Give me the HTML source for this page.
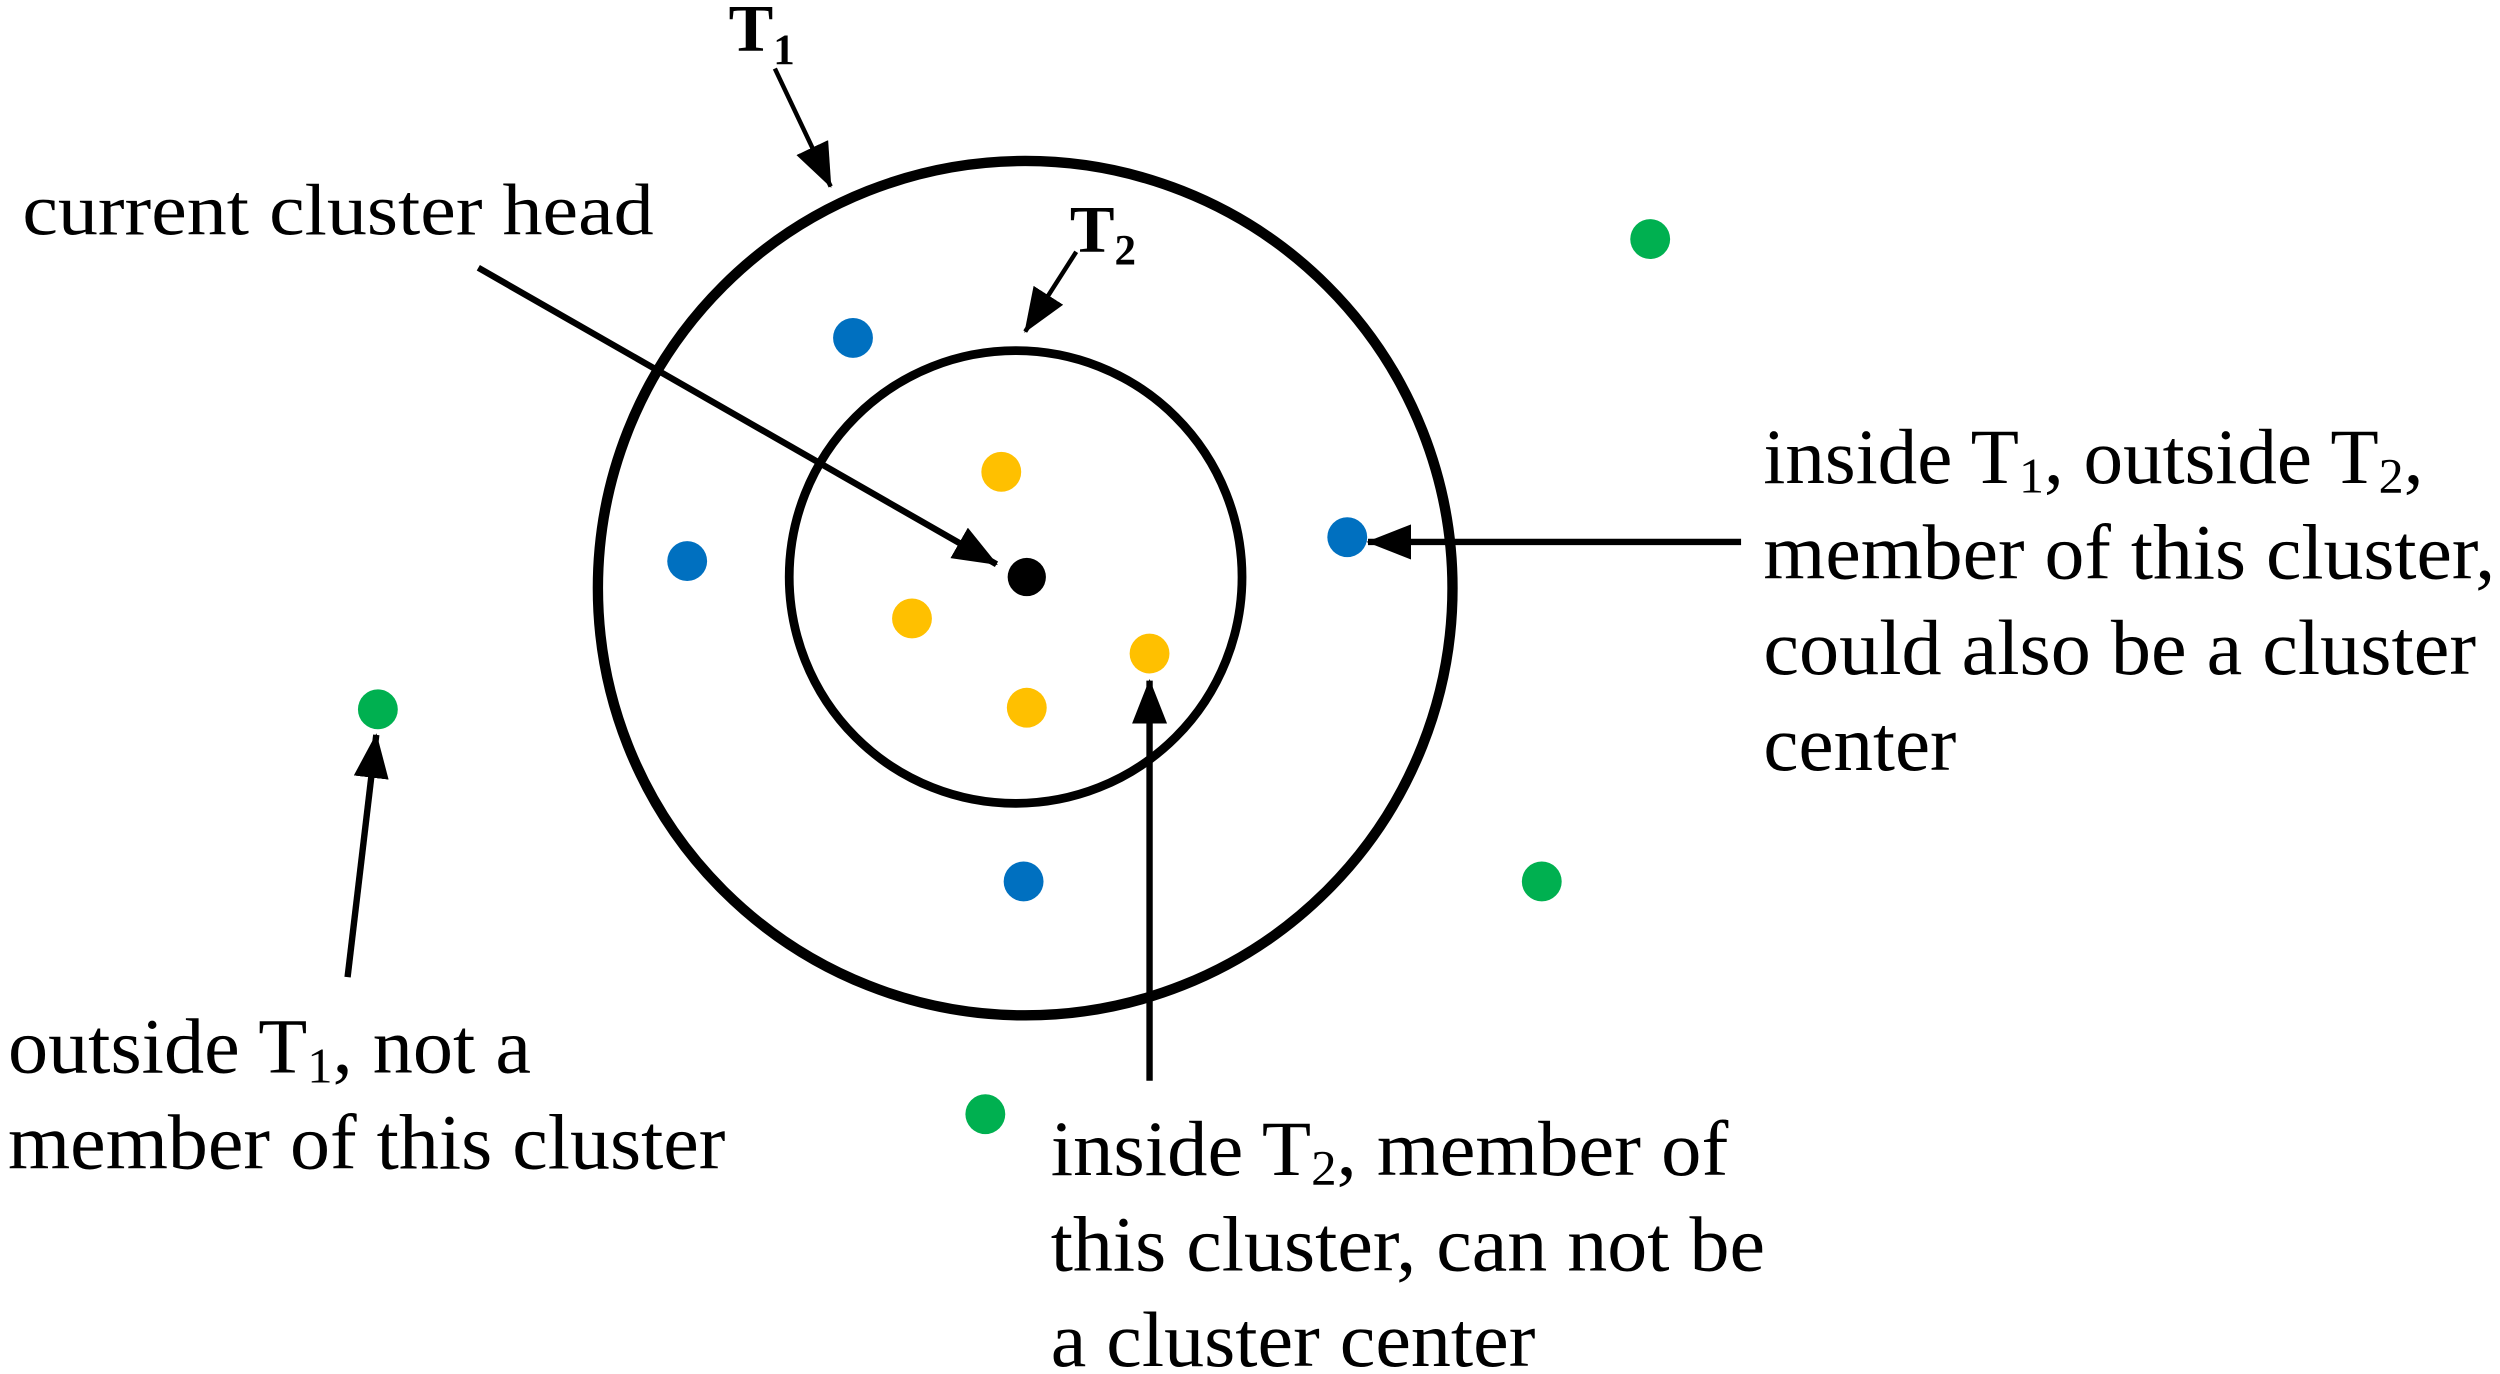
<!DOCTYPE html>
<html><head><meta charset="utf-8"><style>
html,body{margin:0;padding:0;background:#fff;}
svg{display:block;}
text{font-family:"Liberation Serif",serif;fill:#000;}
</style></head><body>
<svg width="2500" height="1374" viewBox="0 0 1568 862" preserveAspectRatio="none" xmlns="http://www.w3.org/2000/svg">
<defs>
<marker id="ahb" markerWidth="28" markerHeight="22" refX="27" refY="11" orient="auto" markerUnits="userSpaceOnUse" viewBox="0 0 28 22">
<path d="M0,0 L28,11 L0,22 z" fill="#000"/>
</marker>
</defs>
<circle cx="643" cy="369" r="268" fill="none" stroke="#000" stroke-width="6.5"/>
<circle cx="637" cy="362" r="142" fill="none" stroke="#000" stroke-width="5.5"/>

<line x1="300" y1="168" x2="625" y2="354" stroke="#000" stroke-width="4" marker-end="url(#ahb)"/>
<line x1="486" y1="43" x2="521" y2="117" stroke="#000" stroke-width="2.8" marker-end="url(#ahb)"/>
<line x1="675" y1="158" x2="643" y2="208" stroke="#000" stroke-width="2.8" marker-end="url(#ahb)"/>
<line x1="1092" y1="340" x2="858" y2="340" stroke="#000" stroke-width="4" marker-end="url(#ahb)"/>
<line x1="721" y1="678" x2="721" y2="427" stroke="#000" stroke-width="4" marker-end="url(#ahb)"/>
<line x1="218" y1="613" x2="236" y2="461" stroke="#000" stroke-width="4" marker-end="url(#ahb)"/>

<circle cx="644" cy="362" r="12" fill="#000"/>
<g fill="#FFC000">
<circle cx="628" cy="296" r="12.5"/><circle cx="572" cy="388" r="12.5"/><circle cx="644" cy="444" r="12.5"/><circle cx="721" cy="410" r="12.5"/>
</g>
<g fill="#0070C0">
<circle cx="535" cy="212" r="12.5"/><circle cx="431" cy="352" r="12.5"/><circle cx="845" cy="337" r="12.5"/><circle cx="642" cy="553" r="12.5"/>
</g>
<g fill="#00B050">
<circle cx="1035" cy="150" r="12.5"/><circle cx="237" cy="445" r="12.5"/><circle cx="967" cy="553" r="12.5"/><circle cx="618" cy="699" r="12.5"/>
</g>

<text x="457" y="32" font-size="42" font-weight="bold">T<tspan font-size="27" dy="8">1</tspan></text>
<text x="671" y="158" font-size="42" font-weight="bold">T<tspan font-size="27" dy="8">2</tspan></text>
<text x="14" y="147" font-size="46" textLength="396" lengthAdjust="spacingAndGlyphs">current cluster head</text>

<g font-size="49">
<text x="1106" y="303" textLength="414" lengthAdjust="spacingAndGlyphs">inside T<tspan font-size="31" dy="6">1</tspan><tspan dy="-6">, outside T</tspan><tspan font-size="31" dy="6">2</tspan><tspan dy="-6">,</tspan></text>
<text x="1106" y="363" textLength="459" lengthAdjust="spacingAndGlyphs">member of this cluster,</text>
<text x="1106" y="423" textLength="447" lengthAdjust="spacingAndGlyphs">could also be a cluster</text>
<text x="1106" y="483" textLength="121" lengthAdjust="spacingAndGlyphs">center</text>

<text x="5" y="673" textLength="328" lengthAdjust="spacingAndGlyphs">outside T<tspan font-size="31" dy="6">1</tspan><tspan dy="-6">, not a</tspan></text>
<text x="5" y="733" textLength="450" lengthAdjust="spacingAndGlyphs">member of this cluster</text>

<text x="659" y="737" textLength="425" lengthAdjust="spacingAndGlyphs">inside T<tspan font-size="31" dy="6">2</tspan><tspan dy="-6">, member of</tspan></text>
<text x="659" y="797" textLength="448" lengthAdjust="spacingAndGlyphs">this cluster, can not be</text>
<text x="659" y="857" textLength="304" lengthAdjust="spacingAndGlyphs">a cluster center</text>
</g>
</svg>
</body></html>
